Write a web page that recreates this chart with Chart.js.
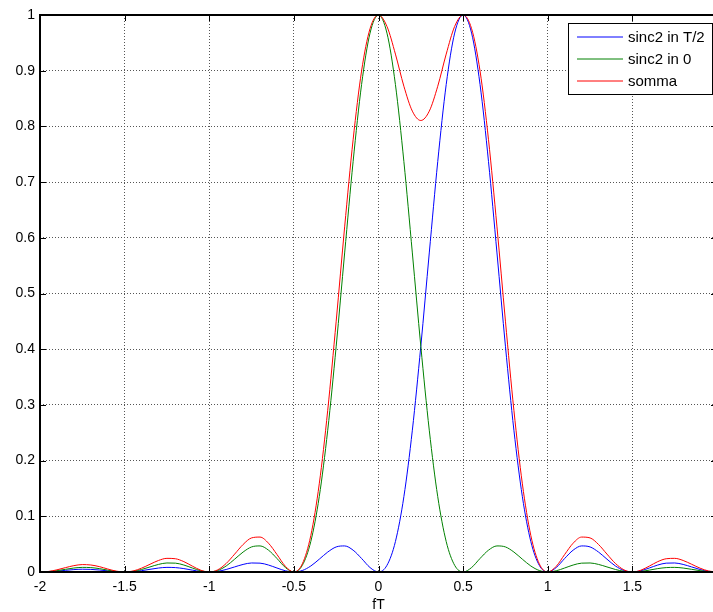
<!DOCTYPE html>
<html>
<head>
<meta charset="utf-8">
<script src="https://cdn.jsdelivr.net/npm/chart.js@4"></script>
<style>
  html, body { margin: 0; padding: 0; background: #fff; overflow: hidden; }
  #wrap { width: 724px; height: 612px; }
</style>
</head>
<body>
<div id="wrap"><canvas id="chart" width="724" height="612"></canvas></div>
<script>
// fT samples (step 0.05)
const fT = [
  -2, -1.95, -1.9, -1.85, -1.8, -1.75, -1.7, -1.65, -1.6, -1.55,
  -1.5, -1.45, -1.4, -1.35, -1.3, -1.25, -1.2, -1.15, -1.1, -1.05,
  -1, -0.95, -0.9, -0.85, -0.8, -0.75, -0.7, -0.65, -0.6, -0.55,
  -0.5, -0.45, -0.4, -0.35, -0.3, -0.25, -0.2, -0.15, -0.1, -0.05,
  0,
  0.05, 0.1, 0.15, 0.2, 0.25, 0.3, 0.35, 0.4, 0.45, 0.5,
  0.55, 0.6, 0.65, 0.7, 0.75, 0.8, 0.85, 0.9, 0.95, 1,
  1.05, 1.1, 1.15, 1.2, 1.25, 1.3, 1.35, 1.4, 1.45, 1.5,
  1.55, 1.6, 1.65, 1.7, 1.75, 1.8, 1.85, 1.9, 1.95, 2
];

const sincT2 = [
  0, 0.0004, 0.0015, 0.0030, 0.0043, 0.0050, 0.0047, 0.0036, 0.0020, 0.0006,
  0, 0.0006, 0.0024, 0.0048, 0.0071, 0.0083, 0.0079, 0.0061, 0.0034, 0.0010,
  0, 0.0012, 0.0045, 0.0091, 0.0136, 0.0162, 0.0159, 0.0125, 0.0072, 0.0022,
  0, 0.0027, 0.0108, 0.0230, 0.0358, 0.0450, 0.0468, 0.0392, 0.0243, 0.0080,
  0, 0.0120, 0.0547, 0.1353, 0.2546, 0.4053, 0.5728, 0.7368, 0.8751, 0.9675,
  1,
  0.9675, 0.8751, 0.7368, 0.5728, 0.4053, 0.2546, 0.1353, 0.0547, 0.0120, 0,
  0.0080, 0.0243, 0.0392, 0.0468, 0.0450, 0.0358, 0.0230, 0.0108, 0.0027, 0,
  0.0022, 0.0072, 0.0125, 0.0159, 0.0162, 0.0136, 0.0091, 0.0045, 0.0012, 0
];

const sinc0 = [
  0, 0.0006, 0.0024, 0.0048, 0.0071, 0.0083, 0.0079, 0.0061, 0.0034, 0.0010,
  0, 0.0012, 0.0045, 0.0091, 0.0136, 0.0162, 0.0159, 0.0125, 0.0072, 0.0022,
  0, 0.0027, 0.0108, 0.0230, 0.0358, 0.0450, 0.0468, 0.0392, 0.0243, 0.0080,
  0, 0.0120, 0.0547, 0.1353, 0.2546, 0.4053, 0.5728, 0.7368, 0.8751, 0.9675,
  1,
  0.9675, 0.8751, 0.7368, 0.5728, 0.4053, 0.2546, 0.1353, 0.0547, 0.0120, 0,
  0.0080, 0.0243, 0.0392, 0.0468, 0.0450, 0.0358, 0.0230, 0.0108, 0.0027, 0,
  0.0022, 0.0072, 0.0125, 0.0159, 0.0162, 0.0136, 0.0091, 0.0045, 0.0012, 0,
  0.0010, 0.0034, 0.0061, 0.0079, 0.0083, 0.0071, 0.0048, 0.0024, 0.0006, 0
];

const somma = [
  0, 0.0010, 0.0039, 0.0078, 0.0114, 0.0133, 0.0126, 0.0097, 0.0054, 0.0016,
  0, 0.0018, 0.0069, 0.0139, 0.0207, 0.0245, 0.0238, 0.0186, 0.0106, 0.0032,
  0, 0.0039, 0.0153, 0.0321, 0.0494, 0.0612, 0.0627, 0.0517, 0.0315, 0.0102,
  0, 0.0147, 0.0655, 0.1583, 0.2904, 0.4503, 0.6196, 0.7760, 0.8994, 0.9755,
  1, 0.9795, 0.9298, 0.8721, 0.8274, 0.8106, 0.8274, 0.8721, 0.9298, 0.9795,
  1, 0.9755, 0.8994, 0.7760, 0.6196, 0.4503, 0.2904, 0.1583, 0.0655, 0.0147,
  0, 0.0102, 0.0315, 0.0517, 0.0627, 0.0612, 0.0494, 0.0321, 0.0153, 0.0039,
  0, 0.0032, 0.0106, 0.0186, 0.0238, 0.0245, 0.0207, 0.0139, 0.0069, 0.0018,
  0
];

const xTicks = [-2, -1.5, -1, -0.5, 0, 0.5, 1, 1.5, 2];
const xTickLabels = ['-2', '-1.5', '-1', '-0.5', '0', '0.5', '1', '1.5', ''];
const yTicks = [0, 0.1, 0.2, 0.3, 0.4, 0.5, 0.6, 0.7, 0.8, 0.9, 1];
const yTickLabels = ['0', '0.1', '0.2', '0.3', '0.4', '0.5', '0.6', '0.7', '0.8', '0.9', '1'];
const seriesNames = ['sinc2 in T/2', 'sinc2 in 0', 'somma'];
const seriesColors = ['#0000ff', '#008000', '#ff0000'];

const font = { family: '"Liberation Sans", Arial, sans-serif', size: 14 };

const points = (ys) => fT.map((x, i) => ({ x, y: ys[i] }));

// box, inward ticks and legend, MATLAB style
const frame = {
  id: 'frame',
  afterDraw(chart) {
    const { ctx, chartArea: a, scales } = chart;
    ctx.save();
    ctx.strokeStyle = '#000';
    ctx.lineWidth = 1;
    ctx.beginPath();
    scales.x.ticks.forEach(t => {
      const px = Math.round(scales.x.getPixelForValue(t.value)) + 0.5;
      ctx.moveTo(px, a.bottom); ctx.lineTo(px, a.bottom - 6);
      ctx.moveTo(px, a.top); ctx.lineTo(px, a.top + 6);
    });
    scales.y.ticks.forEach(t => {
      const py = Math.round(scales.y.getPixelForValue(t.value)) + 0.5;
      ctx.moveTo(a.left, py); ctx.lineTo(a.left + 6, py);
      ctx.moveTo(a.right, py); ctx.lineTo(a.right - 6, py);
    });
    ctx.stroke();
    ctx.lineWidth = 2;
    ctx.strokeRect(a.left, a.top, a.right - a.left, a.bottom - a.top);

    // legend box
    const bx = 568, by = 23, bw = 144, bh = 71;
    ctx.fillStyle = '#fff';
    ctx.fillRect(bx, by, bw, bh);
    ctx.lineWidth = 1;
    ctx.strokeStyle = '#000';
    ctx.strokeRect(bx + 0.5, by + 0.5, bw, bh);
    ctx.font = `15px ${font.family}`;
    ctx.textBaseline = 'middle';
    ctx.textAlign = 'left';
    seriesNames.forEach((name, i) => {
      const y = by + 14 + i * 22;
      ctx.strokeStyle = seriesColors[i];
      ctx.lineWidth = 1;
      ctx.beginPath();
      ctx.moveTo(bx + 9, y);
      ctx.lineTo(bx + 55, y);
      ctx.stroke();
      ctx.fillStyle = '#000';
      ctx.fillText(name, bx + 60, y + 1);
    });
    ctx.restore();
  }
};

const datasets = [sincT2, sinc0, somma].map((ys, i) => ({
  label: seriesNames[i],
  data: points(ys),
  borderColor: seriesColors[i],
  borderWidth: 1,
  pointRadius: 0,
  fill: false,
  cubicInterpolationMode: 'monotone',
  order: 2 - i
}));

new Chart(document.getElementById('chart'), {
  type: 'line',
  data: { datasets },
  options: {
    responsive: false,
    animation: false,
    layout: { padding: { top: 15, right: 0, bottom: 0, left: 0 } },
    plugins: { legend: { display: false }, tooltip: { enabled: false } },
    scales: {
      x: {
        type: 'linear',
        min: -2,
        max: 2,
        afterBuildTicks: (s) => { s.ticks = xTicks.map(v => ({ value: v })); },
        afterFit: (s) => { s.height = 40; },
        ticks: {
          callback: (v, i) => xTickLabels[i],
          color: '#000',
          font,
          padding: 7,
          maxRotation: 0,
          autoSkip: false
        },
        grid: { color: '#555', lineWidth: 1, drawTicks: false },
        border: { display: false, dash: [1, 2] },
        title: { display: true, text: 'fT', color: '#000', font, padding: { top: 0, bottom: -1.5 } }
      },
      y: {
        min: 0,
        max: 1,
        afterBuildTicks: (s) => { s.ticks = yTicks.map(v => ({ value: v })); },
        afterFit: (s) => { s.width = 40; },
        ticks: {
          callback: (v, i) => yTickLabels[i],
          color: '#000',
          font,
          padding: 5,
          autoSkip: false
        },
        grid: { color: '#555', lineWidth: 1, drawTicks: false },
        border: { display: false, dash: [1, 2] }
      }
    }
  },
  plugins: [frame]
});
</script>
</body>
</html>
